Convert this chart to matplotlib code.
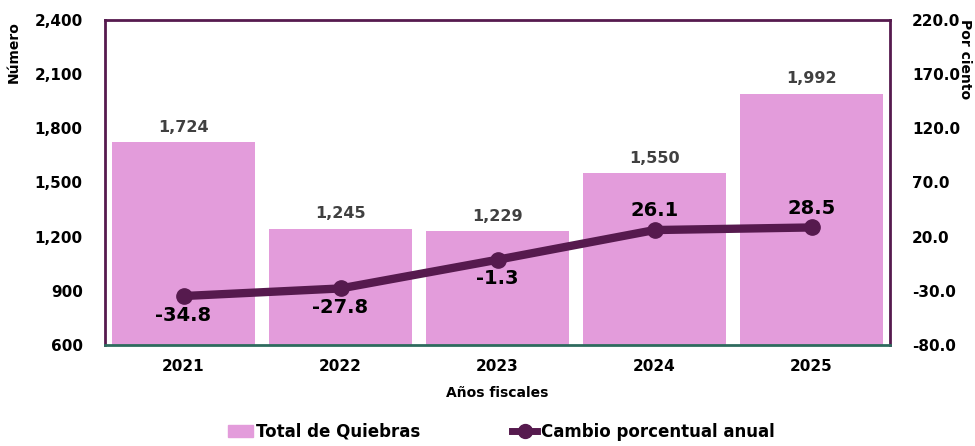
import matplotlib
matplotlib.use("Agg")
import matplotlib.pyplot as plt
from matplotlib.lines import Line2D
from matplotlib.patches import Patch

years = ["2021", "2022", "2023", "2024", "2025"]
totals = [1724, 1245, 1229, 1550, 1992]
pct_change = [-34.8, -27.8, -1.3, 26.1, 28.5]

BAR = "#e39cdb"
LINE = "#561a4e"
plt.rcParams['font.family'] = ['DejaVu Sans']
plt.rcParams['font.weight'] = 'bold'

fig = plt.figure(figsize=(9.75, 4.46), dpi=100)
ax = fig.add_axes([105/975, 1-345/446, 785/975, 325/446])
x = list(range(len(years)))
ax.bar(x, totals, width=0.91, color=BAR, zorder=2)
ax.set_xlim(-0.5, 4.5)
ax.set_ylim(600, 2400)
ax.set_yticks(range(600, 2401, 300))
ax.set_yticklabels([f"{v:,}" for v in range(600, 2401, 300)])
ax.set_xticks(x)
ax.set_xticklabels(years)
ax.tick_params(axis='both', length=0, labelsize=11, pad=10)
ax.tick_params(axis='y', pad=16)
for xi, v in zip(x, totals):
    ax.text(xi, v + 40, f"{v:,}", ha='center', va='bottom', fontsize=11.5,
            color="#404040", fontweight='bold')
ax.set_xlabel("Años fiscales", fontsize=10, fontweight='bold', labelpad=9)
ax.set_ylabel("Número", fontsize=10, fontweight='bold')
ax.yaxis.set_label_coords(-0.107, 0.9)
for s in ['left', 'top', 'right']:
    ax.spines[s].set_color(LINE)
    ax.spines[s].set_linewidth(2)
ax.spines['bottom'].set_color("#2e6b5e")
ax.spines['bottom'].set_linewidth(2)

ax2 = ax.twinx()
ax2.set_ylim(-80, 220)
ax2.set_yticks(range(-80, 221, 50))
ax2.set_yticklabels([f"{v:.1f}" for v in range(-80, 221, 50)])
ax2.tick_params(axis='y', length=0, labelsize=11, pad=16)
ax2.plot(x, pct_change, color=LINE, lw=6, marker='o', markersize=11, zorder=3)
for xi, v in zip(x, pct_change):
    if v < 0:
        ax2.text(xi, v - 9, f"{v:.1f}", ha='center', va='top', fontsize=14,
                 fontweight='bold', color='black')
    else:
        ax2.text(xi, v + 9, f"{v:.1f}", ha='center', va='bottom', fontsize=14,
                 fontweight='bold', color='black')
ax2.set_ylabel("Por ciento", fontsize=10, fontweight='bold', rotation=270)
ax2.yaxis.set_label_coords(1.105, 0.88)
for s in ax2.spines.values():
    s.set_visible(False)

handles = [Patch(color=BAR), Line2D([0], [0], color=LINE, lw=5, marker='o', markersize=10)]
fig.legend(handles, ["Total de Quiebras", "Cambio porcentual anual"], loc='lower center',
           bbox_to_anchor=(0.514, -0.022), ncol=2, frameon=False, fontsize=12,
           columnspacing=5.5, handlelength=1.5, handletextpad=0.2)

fig.savefig("out.png", dpi=100)
